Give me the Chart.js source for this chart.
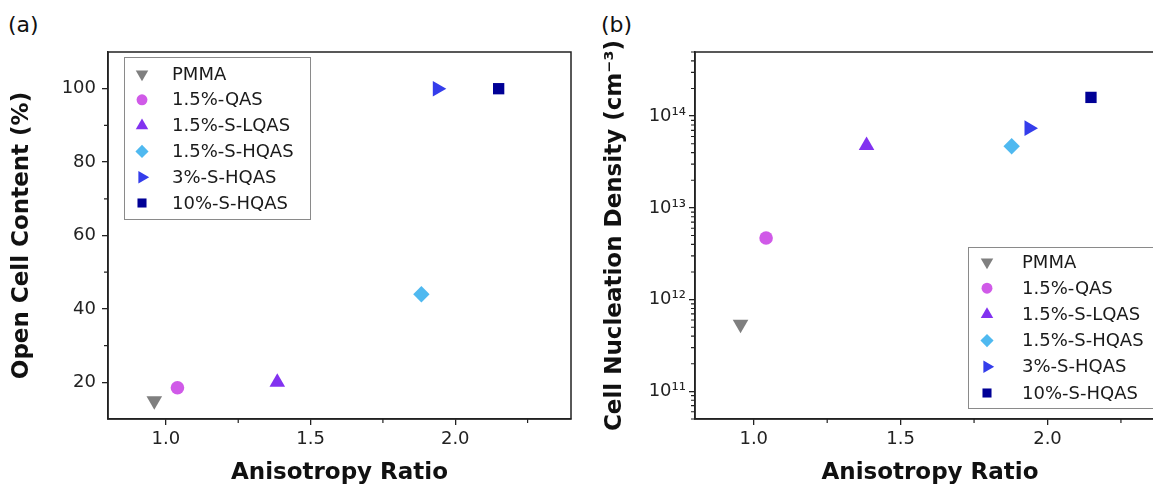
<!DOCTYPE html>
<html>
<head>
<meta charset="utf-8">
<script src="https://cdn.jsdelivr.net/npm/chart.js@4.4.1/dist/chart.umd.min.js"></script>
<style>
  html, body { margin: 0; padding: 0; background: #fff; overflow: hidden; width: 1153px; height: 487px; }
  .panel { position: absolute; top: 0; }
  .tag { position: absolute; top: 12px; font: 22px "DejaVu Sans", sans-serif; color: #111; }
</style>
</head>
<body>
<div class="tag" style="left: 8px;">(a)</div>
<div class="tag" style="left: 601px;">(b)</div>
<canvas id="openCellChart" class="panel" style="left: 0;" width="580" height="487"></canvas>
<canvas id="densityChart" class="panel" style="left: 580px;" width="600" height="487"></canvas>
<script>
// samples, same order in both panels
const sampleNames = ['PMMA', '1.5%-QAS', '1.5%-S-LQAS', '1.5%-S-HQAS', '3%-S-HQAS', '10%-S-HQAS'];

// (a) open cell content vs anisotropy
const ratioA = [0.96, 1.04, 1.385, 1.883, 1.938, 2.15];
const openCellContent = [15, 18.5, 20, 44, 100, 100];

// (b) cell nucleation density vs anisotropy
const ratioB = [0.955, 1.042, 1.384, 1.878, 1.937, 2.148];
const nucleationDensity = [5.4e11, 4.7e12, 4.8e13, 4.7e13, 7.4e13, 1.6e14];

// axis ticks
const ratioTicks = [1.0, 1.5, 2.0];
const ratioMinor = [1.25, 1.75, 2.25];
const openCellTicks = [20, 40, 60, 80, 100];
const openCellMinor = [30, 50, 70, 90];
const densityTicks = [1e11, 1e12, 1e13, 1e14];
const densityTickLabels = ['10¹¹', '10¹²', '10¹³', '10¹⁴'];

// marker look for each sample
const markers = [
  { color: '#7f7f7f', style: 'triangle', rotation: 180, radius: 9 },
  { color: '#d05ae8', style: 'circle', rotation: 0, radius: 6.8 },
  { color: '#8232f0', style: 'triangle', rotation: 0, radius: 9 },
  { color: '#4fb9f0', style: 'rectRot', rotation: 0, radius: 8.2 },
  { color: '#343deb', style: 'triangle', rotation: 90, radius: 9 },
  { color: '#000096', style: 'rect', rotation: 0, radius: 8 }
];

Chart.defaults.font.family = '"DejaVu Sans", sans-serif';
Chart.defaults.color = '#1a1a1a';

function buildDatasets(xs, ys) {
  return sampleNames.map((name, i) => ({
    label: name,
    data: [{ x: xs[i], y: ys[i] }],
    pointStyle: markers[i].style,
    pointRotation: markers[i].rotation,
    pointRadius: markers[i].radius,
    pointBorderWidth: 0,
    backgroundColor: markers[i].color,
    borderColor: markers[i].color
  }));
}

// closed frame plus the short minor ticks
const frameTicks = {
  id: 'frameTicks',
  afterDraw(chart, args, opts) {
    const { ctx, chartArea: a, scales } = chart;
    ctx.save();
    ctx.strokeStyle = '#222';
    ctx.lineWidth = 1.5;
    ctx.strokeRect(a.left, a.top, a.right - a.left, a.bottom - a.top);
    ctx.lineWidth = 1.2;
    ctx.beginPath();
    (opts.xMinor || []).forEach(v => {
      const x = scales.x.getPixelForValue(v);
      ctx.moveTo(x, a.bottom);
      ctx.lineTo(x, a.bottom + 4);
    });
    (opts.yMinor || []).forEach(v => {
      const y = scales.y.getPixelForValue(v);
      if (y < a.top || y > a.bottom) return;
      ctx.moveTo(a.left, y);
      ctx.lineTo(a.left - 4, y);
    });
    ctx.stroke();
    ctx.restore();
  }
};

// boxed legend sitting inside the plot area
const boxLegend = {
  id: 'boxLegend',
  afterDatasetsDraw(chart, args, opts) {
    const { ctx, chartArea: a } = chart;
    const x0 = a.left + opts.left;
    const y0 = a.top + opts.top;
    ctx.save();
    ctx.fillStyle = '#fff';
    ctx.fillRect(x0, y0, opts.width, opts.height);
    ctx.strokeStyle = '#8a8a8a';
    ctx.lineWidth = 1;
    ctx.strokeRect(x0 + 0.5, y0 + 0.5, opts.width, opts.height);
    ctx.font = '18px "DejaVu Sans"';
    ctx.textBaseline = 'middle';
    chart.data.datasets.forEach((d, i) => {
      const cy = y0 + opts.firstRow + i * opts.rowGap;
      ctx.fillStyle = d.backgroundColor;
      Chart.helpers.drawPoint(ctx, {
        pointStyle: d.pointStyle,
        rotation: d.pointRotation,
        radius: d.pointRadius * 0.8,
        borderWidth: 0
      }, x0 + opts.symbolX, cy);
      ctx.fillStyle = '#1a1a1a';
      ctx.fillText(d.label, x0 + opts.textX, cy + 1);
    });
    ctx.restore();
  }
};

const tickFont = { size: 18 };
const titleFont = { size: 23, weight: 'bold' };
const gridStyle = { drawOnChartArea: false, color: '#222', lineWidth: 1.3, tickLength: 6 };
const borderStyle = { color: '#222', width: 1.5 };

function ratioAxis() {
  return {
    type: 'linear',
    min: 0.8,
    max: 2.4,
    afterBuildTicks: s => { s.ticks = ratioTicks.map(v => ({ value: v })); },
    afterFit: s => { s.height = 68; },
    grid: gridStyle,
    border: borderStyle,
    ticks: { font: tickFont, color: '#222', padding: 4, maxRotation: 0, callback: v => v.toFixed(1) },
    title: { display: true, text: 'Anisotropy Ratio', font: titleFont, color: '#111', padding: 0 }
  };
}

new Chart(document.getElementById('openCellChart'), {
  type: 'scatter',
  data: { datasets: buildDatasets(ratioA, openCellContent) },
  options: {
    responsive: false,
    animation: false,
    events: [],
    layout: { padding: { top: 52, right: 5, left: 0, bottom: 0 } },
    scales: {
      x: ratioAxis(),
      y: {
        type: 'linear',
        min: 10,
        max: 110,
        afterBuildTicks: s => { s.ticks = openCellTicks.map(v => ({ value: v })); },
        afterFit: s => { s.width = 108; },
        grid: gridStyle,
        border: borderStyle,
        ticks: { font: tickFont, color: '#222', padding: 6 },
        title: { display: true, text: 'Open Cell Content (%)', font: titleFont, color: '#111', padding: { top: 8, bottom: 0 } }
      }
    },
    plugins: {
      legend: { display: false },
      tooltip: { enabled: false },
      frameTicks: { xMinor: ratioMinor, yMinor: openCellMinor },
      boxLegend: { left: 16, top: 5, width: 186, height: 162, firstRow: 17, rowGap: 25.8, symbolX: 18, textX: 48 }
    }
  },
  plugins: [frameTicks, boxLegend]
});

// log-scale minor ticks at 2..9 of every decade
const densityMinor = [];
for (let e = 10; e <= 14; e++) {
  for (let m = 2; m <= 9; m++) densityMinor.push(m * Math.pow(10, e));
}

new Chart(document.getElementById('densityChart'), {
  type: 'scatter',
  data: { datasets: buildDatasets(ratioB, nucleationDensity) },
  options: {
    responsive: false,
    animation: false,
    events: [],
    layout: { padding: { top: 52, right: 15, left: 0, bottom: 0 } },
    scales: {
      x: ratioAxis(),
      y: {
        type: 'logarithmic',
        min: 5e10,
        max: 5e14,
        afterBuildTicks: s => { s.ticks = densityTicks.map(v => ({ value: v })); },
        afterFit: s => { s.width = 115; },
        grid: gridStyle,
        border: borderStyle,
        ticks: { font: tickFont, color: '#222', padding: 3, callback: (v, i) => densityTickLabels[i] },
        title: { display: true, text: 'Cell Nucleation Density (cm⁻³)', font: titleFont, color: '#111', padding: { top: 21, bottom: 0 } }
      }
    },
    plugins: {
      legend: { display: false },
      tooltip: { enabled: false },
      frameTicks: { xMinor: ratioMinor, yMinor: densityMinor },
      boxLegend: { left: 273, top: 195, width: 200, height: 161, firstRow: 15, rowGap: 26.2, symbolX: 19, textX: 54 }
    }
  },
  plugins: [frameTicks, boxLegend]
});
</script>
</body>
</html>
